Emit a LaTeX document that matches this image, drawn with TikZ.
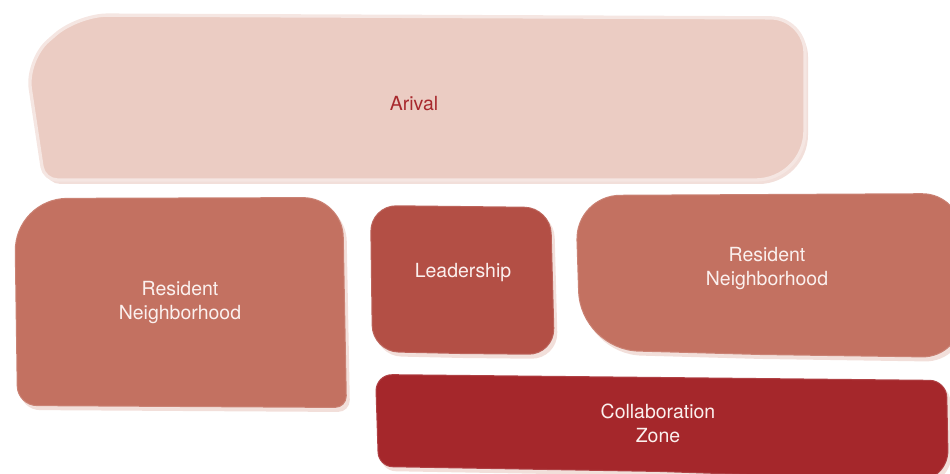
\documentclass[tikz,border=0pt]{standalone}
\usepackage{fontspec}
\usepackage{xcolor}
\usepackage{tikz}
\newfontfamily\blobfont{TeX Gyre Heros}
\definecolor{arrivalclr}{HTML}{EBCCC3}
\definecolor{residentclr}{HTML}{C37161}
\definecolor{leadclr}{HTML}{B34F45}
\definecolor{collabclr}{HTML}{A5272B}
\definecolor{paleshade}{HTML}{F2DFDA}
\definecolor{paleedge}{HTML}{F5E6E2}
\definecolor{lighttext}{HTML}{FBF0EE}
\definecolor{darktext}{HTML}{A8282D}
\tikzset{
  shadowblob/.style={fill=#1,shift={(3,4)}},
  mainblob/.style={fill=#1,draw=white,draw opacity=0.12,line width=1.5pt},
  lbl/.style={font=\blobfont\fontsize{14.6}{18}\selectfont,text=lighttext,align=center},
}
\begin{document}
\begin{tikzpicture}[x=0.75pt,y=-0.75pt]
\useasboundingbox (0,0) rectangle (950,474);
\clip (0,0) rectangle (950,474);
% Arival
\fill[shadowblob=paleshade] (400,180) [rounded corners=10pt] -- (44,180) [rounded corners=22pt] -- (26,60) -- (78,15) [rounded corners=26pt] -- (805,18) [rounded corners=37pt] -- (805,180) [sharp corners] -- cycle;
\draw[fill=arrivalclr,draw=paleedge,line width=2.5pt] (400,180) [rounded corners=10pt] -- (44,180) [rounded corners=22pt] -- (26,60) -- (78,15) [rounded corners=26pt] -- (805,18) [rounded corners=37pt] -- (805,180) [sharp corners] -- cycle;
% Resident Neighborhood, left
\foreach \s/\c in {shadowblob/paleshade,mainblob/residentclr}
  \path[\s=\c] (180,407) [rounded corners=15pt] -- (17,406) [rounded corners=40pt] -- (14,198) [rounded corners=30pt] -- (343,197) [rounded corners=9pt] -- (347,408) [sharp corners] -- cycle;
% Leadership
\foreach \s/\c in {shadowblob/paleshade,mainblob/leadclr}
  \path[\s=\c] (460,354) [rounded corners=20pt] -- (372,352) -- (370,205) -- (551,207) -- (555,355) [sharp corners] -- cycle;
% Resident Neighborhood, right
\foreach \s/\c in {shadowblob/paleshade,mainblob/residentclr}
  \path[\s=\c] (760,355) [rounded corners=44pt] -- (580,350) [rounded corners=34pt] -- (575,195) [rounded corners=30pt] -- (962,193) -- (962,358) [sharp corners] -- cycle;
% Collaboration Zone
\foreach \s/\c in {shadowblob/paleshade,mainblob/collabclr}
  \path[\s=\c] (660,472) [rounded corners=11pt] -- (378,467) [rounded corners=13pt] -- (375,374) [rounded corners=13pt] -- (947,380) [rounded corners=24pt] -- (949,482) [sharp corners] -- cycle;
% labels
\node[lbl,text=darktext] (arrival) at (414,104) {Arival};
\node[lbl] (resleft) at (180,303) {Resident\\Neighborhood};
\node[lbl] (lead) at (463,273) {Leadership};
\node[lbl] (resright) at (767,269) {Resident\\Neighborhood};
\node[lbl] (collab) at (658,423) {Collaboration\\Zone};
\end{tikzpicture}
\end{document}
